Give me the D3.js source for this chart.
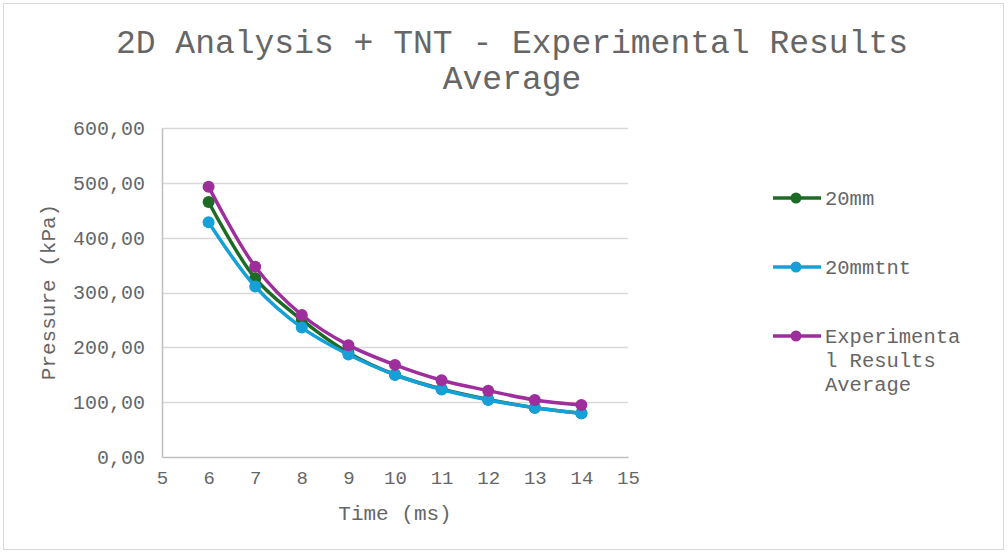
<!DOCTYPE html>
<html><head><meta charset="utf-8">
<script src="https://cdn.jsdelivr.net/npm/d3@7"></script>
<style>body{margin:0;background:#fff}svg{display:block}text{font-family:"Liberation Mono","Courier New",monospace;fill:#666}</style>
</head><body><svg id="c" width="1008" height="554"></svg>
<script>
const times = [6,7,8,9,10,11,12,13,14];
const s20mm = [465,326,250,190,150,124,105,90,80];
const s20mmtnt = [428,311,236,187,150,123,104,90,80];
const sExp = [493,347,259,204,168,140,121,104,95];
const seriesNames = ["20mm","20mmtnt","Experimental Results Average"];
const legendLines = [["20mm"],["20mmtnt"],["Experimenta","l Results","Average"]];
const colors = ["#1E6B25","#16A0D8","#9E2E9B"];
const yTicks = [0,100,200,300,400,500,600];
const xTicks = [5,6,7,8,9,10,11,12,13,14,15];

const svg = d3.select("#c");
svg.append("rect").attr("x",3.5).attr("y",3.5).attr("width",1000).attr("height",546).attr("fill","#fff").attr("stroke","#d9d9d9");

const x = d3.scaleLinear().domain([5,15]).range([162,628]);
const y = d3.scaleLinear().domain([0,600]).range([457,128]);

svg.append("text").attr("x",512).attr("y",53).attr("text-anchor","middle").style("font-size","33px").text("2D Analysis + TNT - Experimental Results");
svg.append("text").attr("x",512).attr("y",89).attr("text-anchor","middle").style("font-size","33px").text("Average");

// gridlines
svg.append("g").selectAll("line").data(yTicks.filter(d=>d>0)).join("line")
  .attr("x1",x(5)).attr("x2",x(15)).attr("y1",d=>Math.round(y(d))+0.5).attr("y2",d=>Math.round(y(d))+0.5)
  .attr("stroke","#d9d9d9").attr("stroke-width",1.5);
// axes
const yAxis = svg.append("g").attr("transform",`translate(${x(5)},0)`).call(d3.axisLeft(y).tickValues(yTicks).tickSize(0).tickPadding(17).tickFormat(d=>d3.format(".2f")(d).replace(".",",")));
yAxis.select(".domain").attr("stroke","#bfbfbf").attr("stroke-width",1.5);
yAxis.selectAll("text").style("font-size","20px").attr("fill","#666");
const xAxis = svg.append("g").attr("transform",`translate(0,${y(0)})`).call(d3.axisBottom(x).tickValues(xTicks).tickSize(0).tickPadding(14).tickFormat(d3.format("d")));
xAxis.select(".domain").attr("stroke","#bfbfbf").attr("stroke-width",1.5);
xAxis.selectAll("text").style("font-size","19px").attr("fill","#666");

svg.append("text").attr("x",395).attr("y",520).attr("text-anchor","middle").style("font-size","21px").text("Time (ms)");
svg.append("text").attr("transform","translate(55,292) rotate(-90)").attr("text-anchor","middle").style("font-size","21px").text("Pressure (kPa)");

const data = [s20mm,s20mmtnt,sExp];
const line = d3.line().x((d,i)=>x(times[i])).y(d=>y(d)).curve(d3.curveCatmullRom.alpha(0.5));
data.forEach((vals,k)=>{
  const g = svg.append("g");
  g.append("path").attr("d",line(vals)).attr("fill","none").attr("stroke",colors[k]).attr("stroke-width",3.5).attr("stroke-linecap","round");
  g.selectAll("circle").data(vals).join("circle").attr("cx",(d,i)=>x(times[i])).attr("cy",d=>y(d)).attr("r",6).attr("fill",colors[k]);
});

// legend
const legY = [198,267,336];
legendLines.forEach((lines,k)=>{
  const g = svg.append("g");
  g.append("line").attr("x1",773).attr("x2",821).attr("y1",legY[k]).attr("y2",legY[k]).attr("stroke",colors[k]).attr("stroke-width",3.5);
  g.append("circle").attr("cx",796).attr("cy",legY[k]).attr("r",5.5).attr("fill",colors[k]);
  lines.forEach((t,j)=>{
    g.append("text").attr("x",825).attr("y",legY[k]+7+j*24).style("font-size","20.5px").text(t);
  });
});
</script></body></html>
